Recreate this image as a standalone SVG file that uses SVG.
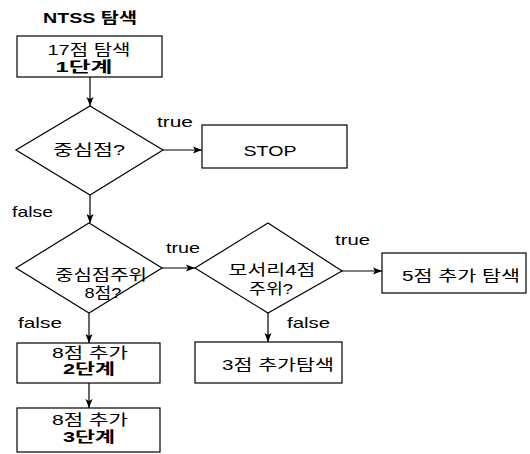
<svg xmlns="http://www.w3.org/2000/svg" width="530" height="454" viewBox="0 0 530 454">
<defs>
<marker id="ah" markerWidth="10" markerHeight="8" refX="9" refY="4" orient="auto" markerUnits="userSpaceOnUse">
<path d="M0,0.5 L9,4 L0,7.5 L2,4 Z" fill="#000"/>
</marker>
<style>
.n{fill:#fff;stroke:#000;stroke-width:1.2}
.t{font-family:"Liberation Sans","Noto Sans CJK KR",sans-serif;font-size:15px;fill:#000;text-anchor:middle}
.b{font-weight:bold}
.l{font-family:"Liberation Sans","Noto Sans CJK KR",sans-serif;font-size:15px;fill:#000}
.c{stroke:#000;stroke-width:1.2;fill:none;marker-end:url(#ah)}
</style>
</defs>
<rect width="530" height="454" fill="#fff"/>
<text class="t b" x="90" y="23" textLength="94" lengthAdjust="spacingAndGlyphs">NTSS 탐색</text>
<g id="connectors">
<line class="c" x1="90" y1="77" x2="90" y2="106"/>
<line class="c" x1="163" y1="150" x2="202" y2="150"/>
<line class="c" x1="90" y1="195" x2="90" y2="223"/>
<line class="c" x1="162" y1="268" x2="195" y2="268"/>
<line class="c" x1="342" y1="271" x2="382" y2="271"/>
<line class="c" x1="89" y1="313" x2="89" y2="343"/>
<line class="c" x1="268" y1="313" x2="268" y2="342"/>
<line class="c" x1="89" y1="383" x2="89" y2="408"/>
<text class="l" x="157" y="127" textLength="36" lengthAdjust="spacingAndGlyphs">true</text>
<text class="l" x="12" y="217" textLength="41" lengthAdjust="spacingAndGlyphs">false</text>
<text class="l" x="166" y="253" textLength="34" lengthAdjust="spacingAndGlyphs">true</text>
<text class="l" x="335" y="245" textLength="35" lengthAdjust="spacingAndGlyphs">true</text>
<text class="l" x="18" y="328" textLength="44" lengthAdjust="spacingAndGlyphs">false</text>
<text class="l" x="287" y="328" textLength="43" lengthAdjust="spacingAndGlyphs">false</text>
</g>
<g id="n1"><rect class="n" x="17" y="36" width="145" height="41"/>
<text class="t" x="89" y="55" textLength="83" lengthAdjust="spacingAndGlyphs">17점 탐색</text>
<text class="t b" x="84" y="72" textLength="57" lengthAdjust="spacingAndGlyphs">1단계</text></g>
<g id="d1"><polygon class="n" points="90,106 163,150 90,195 16,150"/>
<text class="t" x="89" y="155" textLength="72" lengthAdjust="spacingAndGlyphs">중심점?</text></g>
<g id="stop"><rect class="n" x="202" y="125" width="145" height="43"/>
<text class="t" x="270" y="156" textLength="53" lengthAdjust="spacingAndGlyphs">STOP</text></g>
<g id="d2"><polygon class="n" points="89,223 162,268 89,313 16,268"/>
<text class="t" x="101" y="280" textLength="92" lengthAdjust="spacingAndGlyphs">중심점주위</text>
<text class="t" x="103" y="298" textLength="37" lengthAdjust="spacingAndGlyphs">8점?</text></g>
<g id="d3"><polygon class="n" points="268,223 342,271 268,313 195,268"/>
<text class="t" x="272" y="275" textLength="87" lengthAdjust="spacingAndGlyphs">모서리4점</text>
<text class="t" x="271" y="294" textLength="44" lengthAdjust="spacingAndGlyphs">주위?</text></g>
<g id="n5"><rect class="n" x="382" y="253" width="144" height="40"/>
<text class="t" x="461" y="281" textLength="118" lengthAdjust="spacingAndGlyphs">5점 추가 탐색</text></g>
<g id="n3"><rect class="n" x="195" y="342" width="147" height="41"/>
<text class="t" x="278" y="370" textLength="112" lengthAdjust="spacingAndGlyphs">3점 추가탐색</text></g>
<g id="n2"><rect class="n" x="17" y="343" width="143" height="40"/>
<text class="t" x="90" y="358" textLength="76" lengthAdjust="spacingAndGlyphs">8점 추가</text>
<text class="t b" x="89" y="374" textLength="52" lengthAdjust="spacingAndGlyphs">2단계</text></g>
<g id="n4"><rect class="n" x="17" y="408" width="143" height="44"/>
<text class="t" x="90" y="425" textLength="76" lengthAdjust="spacingAndGlyphs">8점 추가</text>
<text class="t b" x="89" y="442" textLength="52" lengthAdjust="spacingAndGlyphs">3단계</text></g>
</svg>
